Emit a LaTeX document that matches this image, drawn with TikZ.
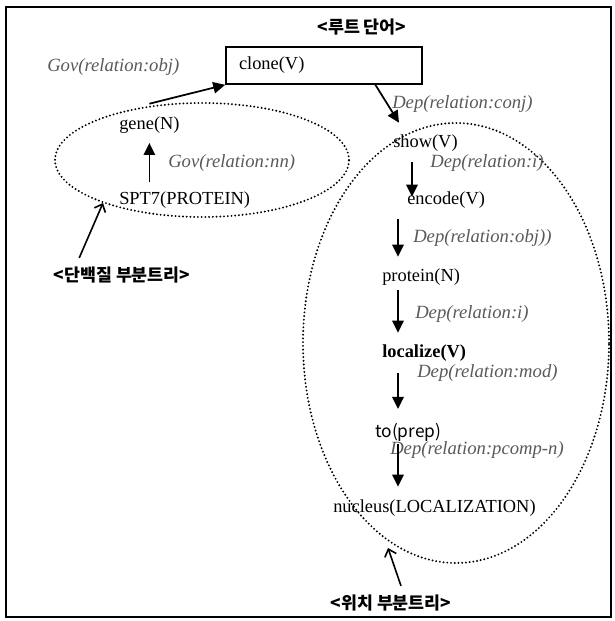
\documentclass[tikz,border=0pt]{standalone}
\usepackage{fontspec}
\setmainfont{Liberation Serif}
\newfontfamily\kfont{Noto Sans CJK KR}
\usetikzlibrary{arrows.meta, positioning, calc}

\begin{document}
\begin{tikzpicture}[x=0.75pt, y=-0.75pt,
  word/.style={anchor=west, inner xsep=0pt, inner ysep=2pt, font=\fontsize{13.8}{16}\selectfont},
  rel/.style={anchor=west, inner xsep=0pt, inner ysep=2pt, text=black!65, font=\fontsize{14}{16}\selectfont\itshape},
  ktitle/.style={inner sep=2pt, font=\kfont\bfseries\fontsize{13}{15}\selectfont},
  subtree/.style={line width=1.6pt, line cap=round, dash pattern=on 0pt off 2.8pt},
  arr/.style={line width=1.3pt, -{Triangle[length=9pt, width=8.5pt]}},
  pointer/.style={line width=1.2pt, -{Straight Barb[length=5pt, width=9pt]}}]
  \useasboundingbox (0,0) rectangle (614,621);
  \draw[line width=1.2pt] (6,7) rectangle (611,617);

  % the two subtrees
  \draw[subtree] (202,160) ellipse [x radius=110.25pt, y radius=42.75pt];
  \draw[subtree] (456,343) ellipse [x radius=114.75pt, y radius=165pt];

  % root word
  \node[ktitle] (roottitle) at (362,27) {<루트 단어>};
  \node[draw, line width=1.2pt, minimum height=27.75pt, text width=127.5pt, inner xsep=9.75pt, align=left,
        font=\fontsize{13.8}{16}\selectfont] (clone) at (324,65.5) {clone(V)};

  % protein subtree
  \node[word] (gene) at (119,125) {gene(N)};
  \node[word] (spt) at (119,200) {SPT7(PROTEIN)};
  \node[ktitle] (protlbl) at (122,275) {<단백질 부분트리>};

  % localization subtree
  \node[word] (show) at (393,143) {show(V)};
  \node[word] (encode) at (407,200) {encode(V)};
  \node[word] (protein) at (382,277) {protein(N)};
  \node[word, font=\fontsize{13.8}{16}\selectfont\bfseries] (localize) at (382,353) {localize(V)};
  \node[word, font=\kfont\fontsize{13}{16}\selectfont] (toprep) at (375,432) {to(prep)};
  \node[word] (nucleus) at (333,508) {nucleus(LOCALIZATION)};
  \node[ktitle] (loclbl) at (391,603) {<위치 부분트리>};

  \foreach \x/\y/\txt [count=\i] in {47/67/Gov(relation:obj), 392/104/Dep(relation:conj),
      168/163/Gov(relation:nn), 430/163/Dep(relation:i), 413/238/Dep(relation:obj)),
      415/314/Dep(relation:i), 417/373/Dep(relation:mod), 390/450/Dep(relation:pcomp-n)}
    \node[rel] (rel\i) at (\x,\y) {\txt};

  \coordinate (colx) at (398,0);
  \coordinate (colxa) at (412,0);
  \coordinate (protend) at (103,203);
  \coordinate (locend) at (388,548);

  \draw[arr] ($(gene.north)+(0,-10)$) -- (clone.south west);
  \draw[arr] ($(clone.south west)!0.76!(clone.south east)$) -- ($(show.north west)+(6,-9)$);
  \draw[arr, shorten <=5pt, shorten >=5pt] (spt.north -| gene.south) -- (gene.south);
  \draw[arr, shorten <=6pt, shorten >=-6pt] (show.south -| colxa) -- (encode.north -| colxa);
  \draw[arr, shorten <=6pt, shorten >=6.75pt] (encode.south -| colx) -- (protein.north -| colx);
  \draw[arr, shorten <=1.5pt, shorten >=6.75pt] (protein.south -| colx) -- (localize.north -| colx);
  \draw[arr, shorten <=6.75pt, shorten >=8.25pt] (localize.south -| colx) -- (toprep.north -| colx);
  \draw[arr, shorten >=7.5pt] (toprep.south -| colx) -- (nucleus.north -| colx);

  \draw[pointer] ($(protlbl.north west)!0.2!(protlbl.north east)+(0,-6)$) -- (protend);
  \draw[pointer] ($(loclbl.north)+(10,-6)$) -- (locend);
\end{tikzpicture}
\end{document}
